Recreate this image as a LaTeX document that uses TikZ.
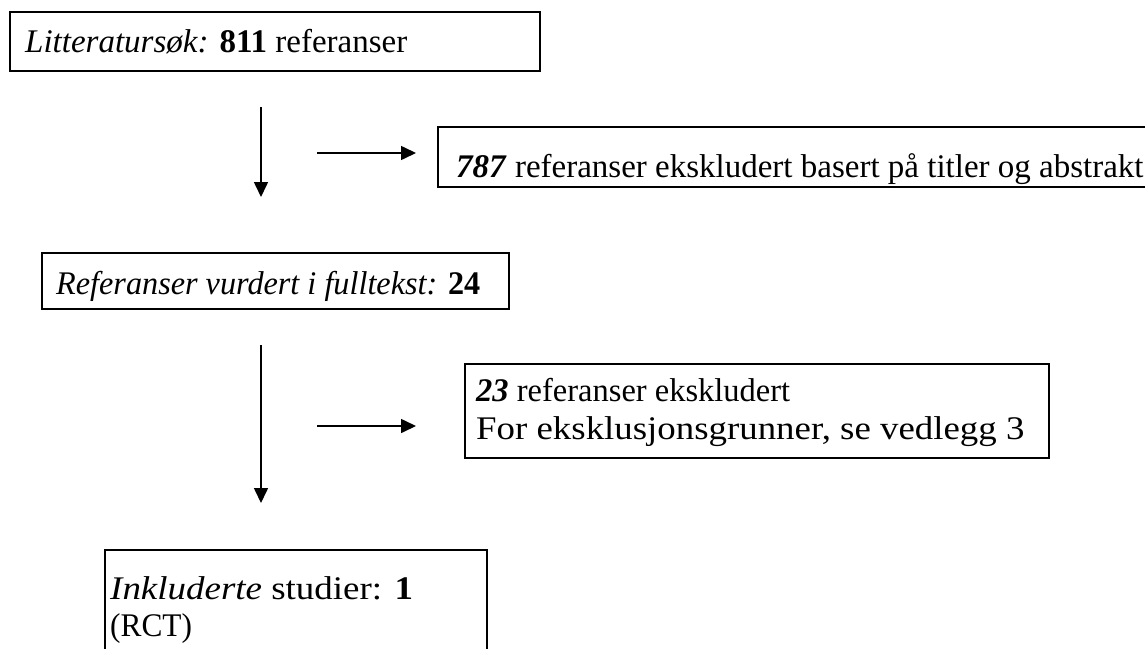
\documentclass[tikz,border=0pt]{standalone}
\usepackage{fontspec}
\setmainfont{Liberation Serif}
\usetikzlibrary{arrows.meta}
\tikzset{
  frame/.style={draw=black, line width=1.6pt, inner sep=0pt, anchor=north west},
  label/.style={anchor=base west, inner sep=0pt, font=\fontsize{33}{38}\selectfont},
  flow/.style={draw=black, line width=1.6pt, -{Triangle[length=15pt,width=14pt]}}
}
% horizontal stretch of a single line of text
\newcommand{\wide}[2]{\scalebox{#1}[1]{#2}}
\begin{document}
\begin{tikzpicture}[x=1pt,y=-1pt]
  \useasboundingbox (0,0) rectangle (1145,648);
  \clip (0,0) rectangle (1145,648);

  % boxes
  \node[frame, minimum width=530pt, minimum height=59pt] (lit) at (9,11) {};
  \node[frame, minimum width=720pt, minimum height=60pt] (excl1) at (437,126) {};
  \node[frame, minimum width=467pt, minimum height=56pt] (full) at (41,252) {};
  \node[frame, minimum width=584pt, minimum height=94pt] (excl2) at (464,363) {};
  \node[frame, minimum width=382pt, minimum height=110pt] (incl) at (104,549) {};

  % box texts
  \node[label] (t1) at (25,52) {\textit{Litteratursøk:} \textbf{811} referanser};
  \node[label] (t2) at (456,177) {\textbf{\textit{787}} referanser ekskludert basert på titler og abstrakt};
  \node[label] (t3) at (56,294) {\wide{0.977}{\textit{Referanser vurdert i fulltekst:} \textbf{24}}};
  \node[label] (t4a) at (476,401) {\wide{0.985}{\textbf{\textit{23}} referanser ekskludert}};
  \node[label] (t4b) at (476,439) {\wide{1.117}{For eksklusjonsgrunner, se vedlegg 3}};
  \node[label] (t5a) at (110,599) {\wide{1.12}{\textit{Inkluderte} studier: \textbf{1}}};
  \node[label] (t5b) at (110,636) {\wide{0.95}{(RCT)}};

  % arrow end points
  \coordinate (v1s) at (261,107);
  \coordinate (v1e) at (261,197);
  \coordinate (h1s) at (317,153);
  \coordinate (h1e) at (416,153);
  \coordinate (v2s) at (261,345);
  \coordinate (v2e) at (261,503);
  \coordinate (h2s) at (317,426);
  \coordinate (h2e) at (416,426);

  \draw[flow] (v1s) -- (v1e);
  \draw[flow] (h1s) -- (h1e);
  \draw[flow] (v2s) -- (v2e);
  \draw[flow] (h2s) -- (h2e);
\end{tikzpicture}
\end{document}
